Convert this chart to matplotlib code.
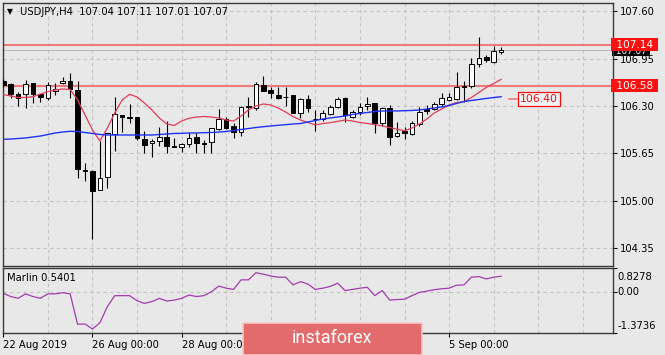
import matplotlib
matplotlib.use("Agg")
import matplotlib.pyplot as plt
from matplotlib.patches import Rectangle
from matplotlib.transforms import blended_transform_factory, offset_copy
import numpy as np

# USDJPY H4 candles from 22 Aug 2019 00:00
opens = [106.644, 106.603, 106.465, 106.461, 106.612, 106.465, 106.406, 106.510,
         106.612, 106.644, 106.520, 105.425, 105.410, 105.147, 105.322, 105.912,
         106.177, 106.150, 106.145, 105.848, 105.790, 105.820, 105.879, 105.751,
         105.741, 105.774, 105.879, 105.790, 105.806, 105.980, 106.115, 106.026,
         105.940, 106.283, 106.269, 106.589, 106.520, 106.456, 106.420, 106.445,
         106.200, 106.397, 106.125, 106.120, 106.191, 106.291, 106.406, 106.145,
         106.222, 106.300, 106.338, 106.071, 106.277, 105.884, 105.954, 105.920,
         106.053, 106.255, 106.259, 106.321, 106.376, 106.400, 106.575, 106.580,
         106.874, 106.970, 106.909, 107.04]
highs = [106.671, 106.612, 106.497, 106.658, 106.615, 106.468, 106.635, 106.622,
         106.695, 106.750, 106.648, 105.521, 105.420, 105.820, 105.934, 106.428,
         106.180, 106.328, 106.154, 105.961, 105.851, 106.016, 106.094, 105.857,
         105.788, 105.925, 105.925, 105.834, 106.005, 106.255, 106.154, 106.063,
         106.300, 106.428, 106.635, 106.717, 106.566, 106.557, 106.561, 106.452,
         106.404, 106.452, 106.239, 106.246, 106.314, 106.428, 106.420, 106.246,
         106.338, 106.420, 106.346, 106.291, 106.314, 106.081, 106.016, 106.094,
         106.291, 106.314, 106.360, 106.475, 106.483, 106.771, 106.644, 106.956,
         107.252, 107.000, 107.125, 107.11]
lows = [106.561, 106.406, 106.300, 106.269, 106.342, 106.360, 106.383, 106.452,
        106.603, 106.406, 105.307, 105.274, 104.469, 105.140, 105.170, 105.681,
        105.947, 106.063, 105.834, 105.659, 105.604, 105.751, 105.661, 105.735,
        105.673, 105.741, 105.661, 105.661, 105.659, 105.966, 105.980, 105.857,
        105.891, 106.153, 106.246, 106.505, 106.406, 106.390, 106.300, 106.200,
        106.136, 106.222, 105.957, 106.094, 106.177, 106.269, 106.085, 106.131,
        106.177, 106.246, 105.934, 106.025, 105.765, 105.877, 105.843, 105.906,
        106.025, 106.186, 106.246, 106.305, 106.373, 106.383, 106.360, 106.545,
        106.840, 106.909, 106.887, 107.01]
closes = [106.589, 106.461, 106.406, 106.599, 106.461, 106.428, 106.589, 106.528,
          106.644, 106.530, 105.431, 105.410, 105.133, 105.308, 105.925, 106.187,
          106.145, 106.140, 105.857, 105.765, 105.820, 105.870, 105.751, 105.740,
          105.774, 105.867, 105.788, 105.783, 105.994, 106.118, 106.000, 105.947,
          106.283, 106.300, 106.596, 106.511, 106.475, 106.410, 106.430, 106.204,
          106.390, 106.269, 106.120, 106.211, 106.283, 106.393, 106.170, 106.222,
          106.283, 106.328, 106.063, 106.269, 105.879, 105.930, 105.923, 106.071,
          106.222, 106.231, 106.328, 106.406, 106.428, 106.557, 106.565, 106.874,
          106.956, 106.932, 107.060, 107.07]
ma_fast = [106.459, 106.438, 106.417, 106.417, 106.428, 106.465, 106.497, 106.520,
           106.534, 106.527, 106.383, 106.177, 105.971, 105.820, 105.998, 106.204,
           106.383, 106.461, 106.424, 106.342, 106.246, 106.136, 106.053, 106.033,
           106.094, 106.132, 106.149, 106.156, 106.149, 106.136, 106.108, 106.094,
           106.163, 106.246, 106.301, 106.328, 106.314, 106.273, 106.218, 106.154,
           106.108, 106.074, 106.040, 106.060, 106.071, 106.090, 106.108, 106.094,
           106.074, 106.060, 106.046, 106.026, 106.005, 105.980, 105.961, 105.998,
           106.053, 106.122, 106.204, 106.259, 106.314, 106.349, 106.360, 106.417,
           106.486, 106.555, 106.610, 106.665]
ma_slow = [105.843, 105.847, 105.854, 105.861, 105.875, 105.888, 105.909, 105.930,
           105.943, 105.953, 105.950, 105.936, 105.923, 105.909, 105.902, 105.902,
           105.902, 105.902, 105.902, 105.902, 105.902, 105.909, 105.916, 105.923,
           105.925, 105.930, 105.930, 105.934, 105.936, 105.943, 105.950, 105.964,
           105.978, 105.991, 106.005, 106.016, 106.026, 106.035, 106.044, 106.053,
           106.060, 106.081, 106.101, 106.122, 106.136, 106.149, 106.163, 106.184,
           106.198, 106.211, 106.225, 106.232, 106.232, 106.232, 106.236, 106.239,
           106.246, 106.259, 106.273, 106.287, 106.307, 106.335, 106.362, 106.376,
           106.390, 106.404, 106.417, 106.428]
marlin = [-0.03, -0.14, -0.20, -0.05, -0.14, -0.20, -0.05, -0.05, -0.01, -0.05,
          -1.07, -1.06, -1.23, -1.02, -0.48, -0.11, -0.11, -0.11, -0.28, -0.37,
          -0.31, -0.20, -0.29, -0.26, -0.20, -0.09, -0.14, -0.11, 0.02, 0.21,
          0.14, 0.10, 0.42, 0.42, 0.66, 0.61, 0.55, 0.51, 0.51, 0.25,
          0.36, 0.28, 0.10, 0.14, 0.20, 0.31, 0.06, 0.10, 0.14, 0.17,
          -0.11, 0.06, -0.26, -0.24, -0.23, -0.11, 0.00, 0.04, 0.09, 0.12,
          0.14, 0.24, 0.25, 0.51, 0.53, 0.45, 0.51, 0.54]

levels = [107.14, 106.58]
bid = 107.07
ma_label = 106.40
price_ticks = [107.60, 106.95, 106.30, 105.65, 105.00, 104.35]
marlin_ticks = [0.8278, 0.0, -1.3736]
date_ticks = [0, 12, 24, 36, 48, 60]
# 30 Aug and 3 Sep labels sit under the watermark in the original
date_labels = ["22 Aug 2019", "26 Aug 00:00", "28 Aug 00:00", "", "", "5 Sep 00:00"]

BG = "#E8E8E8"
GRID = "#C2C2C2"
W, H = 665, 355
FS = 7.2
fig = plt.figure(figsize=(W / 100, H / 100), dpi=100, facecolor=BG)
ax = fig.add_axes([2.7 / W, 1 - 265.7 / H, 610 / W, 262.7 / H], facecolor=BG)
ax2 = fig.add_axes([2.7 / W, 1 - 333.3 / H, 610 / W, 65.6 / H], facecolor=BG)

x = np.arange(len(opens))
o, hi, lo, c = map(np.array, (opens, highs, lows, closes))

for g in range(0, 84, 6):
    for a in (ax, ax2):
        a.axvline(g, color=GRID, lw=0.8, ls=(0, (3, 3)), zorder=0.5)
for p in price_ticks:
    ax.axhline(p, color=GRID, lw=0.8, ls=(0, (3, 3)), zorder=0.5)
ax2.axhline(0, color=GRID, lw=0.8, ls=(0, (3, 3)), zorder=0.5)

# candles
ax.vlines(x, lo, hi, color="black", lw=0.8, zorder=3)
up = c >= o
body = np.maximum(np.abs(c - o), 0.004)
ax.bar(x, body, bottom=np.minimum(o, c), width=0.62,
       color=["white" if u else "black" for u in up],
       edgecolor="black", lw=0.7, zorder=4)

ax.plot(x, ma_fast, color="#E43C58", lw=0.9, zorder=5)
ax.plot(x, ma_slow, color="#1E32FF", lw=1.0, zorder=5)
for lv in levels:
    ax.axhline(lv, color="#F07A7A", lw=1.5, zorder=2)
ax.axhline(bid, color="#B8B8B8", lw=0.7, zorder=1.5)

ax.set_xlim(-0.08, 82.02)
ax.set_ylim(104.107, 107.715)
ax.set_yticks(price_ticks)
ax.set_yticklabels([f"{t:.2f}" for t in price_ticks])
ax.tick_params(axis="y", right=True, left=False, labelright=True,
               labelleft=False, length=3, width=0.8, labelsize=FS, pad=2)
ax.tick_params(axis="x", bottom=False, labelbottom=False)

# right-hand price boxes
bt = blended_transform_factory(ax.transAxes, ax.transData)
ax.text(1.0, bid - 0.02, " 107.07 ", transform=bt, ha="left", va="center",
        fontsize=FS - 0.8, color="white", zorder=2, clip_on=False,
        bbox=dict(boxstyle="square,pad=0.05", fc="black", ec="none"))
for lv in levels:
    ax.text(1.0, lv, f" {lv:.2f} ", transform=bt, ha="left", va="center",
            fontsize=FS + 0.4, color="white", zorder=6, clip_on=False,
            bbox=dict(boxstyle="square,pad=0.15", fc="#FF1010", ec="none"))

# label of the slow MA level
ax.plot([68.1, 69.2], [ma_label, ma_label], color="#F07A7A", lw=1.2, zorder=5)
ax.text(69.55, ma_label, f"{ma_label:.2f}", ha="left", va="center",
        fontsize=FS + 0.6, color="#F01010", zorder=6,
        bbox=dict(boxstyle="square,pad=0.18", fc="#F4F4F4", ec="#F01010", lw=0.9))

for a in (ax, ax2):
    for s in a.spines.values():
        s.set_color("#3A3A3A")
        s.set_linewidth(1.0)

# Marlin panel
ax2.plot(x, marlin, color="#A23CAE", lw=0.9)
ax2.set_xlim(-0.08, 82.02)
ax2.set_ylim(-1.3736, 0.8278)
ax2.set_yticks(marlin_ticks)
ax2.set_yticklabels([])
ax2.tick_params(axis="y", right=True, left=False, labelright=False,
                labelleft=False, length=3, width=0.8)
bt2 = blended_transform_factory(ax2.transAxes, ax2.transData)
offs = {0.8278: -9, 0.0: 0, -1.3736: 7}
for t in marlin_ticks:
    lab = "0.00" if t == 0 else f"{t:.4f}"
    tr = offset_copy(bt2, fig=fig, x=5, y=offs[t], units="dots")
    ax2.text(1.0, t, lab, transform=tr, ha="left", va="center",
             fontsize=FS, clip_on=False)
ax2.set_xticks(date_ticks)
ax2.set_xticklabels(date_labels)
ax2.tick_params(axis="x", length=3, width=0.8, labelsize=FS, pad=2)
for lab in ax2.get_xticklabels():
    lab.set_horizontalalignment("left")

fig.text(7 / W, 1 - 12 / H, "▼", fontsize=5.5, va="center")
fig.text(20 / W, 1 - 12 / H,
         f"USDJPY,H4  {o[-1]:.2f} {hi[-1]:.2f} {lo[-1]:.2f} {c[-1]:.2f}",
         fontsize=FS, va="center")
fig.text(6.7 / W, 1 - 278 / H, "Marlin 0.5401", fontsize=FS, va="center")

# watermark logo
fig.add_artist(Rectangle((243 / W, 0), 179 / W, 32 / H, transform=fig.transFigure,
                         fc="#E46B6B", ec="#F3C8C8", lw=1.2, zorder=10))
fig.text(332 / W, 1 - 338 / H, "instaforex", color="white", fontsize=13,
         family="Roboto", ha="center", va="center", zorder=11)

fig.savefig("out.png", dpi=100, facecolor=BG)
